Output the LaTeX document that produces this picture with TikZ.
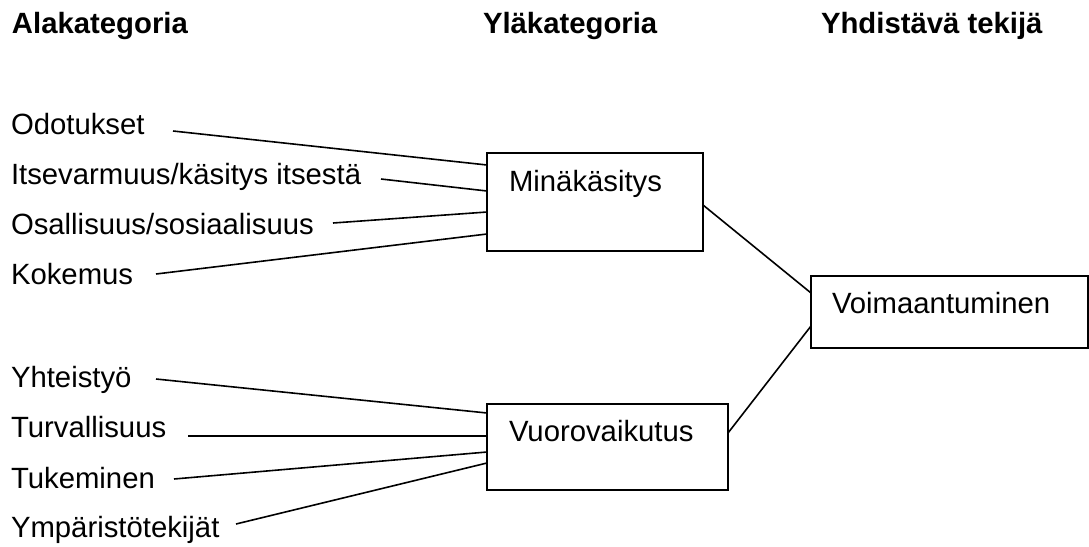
\documentclass[tikz,border=0pt]{standalone}
\usepackage{fontspec}
\setmainfont{Liberation Sans}
\usetikzlibrary{calc}
\begin{document}
\begin{tikzpicture}[x=1pt,y=-1pt,
  every node/.style={inner sep=0pt,outer sep=0pt,font=\fontsize{29.3}{35}\selectfont},
  label/.style={anchor=base west},
  head/.style={anchor=base west,font=\fontsize{29.3}{35}\selectfont\bfseries},
  catbox/.style={draw,line width=1.6pt,anchor=north west,align=left,inner ysep=0pt},
  link/.style={line width=1.6pt}]
\useasboundingbox (0,0) rectangle (1089,546);

% column headings
\node[head] (h1) at (12,33) {Alakategoria};
\node[head] (h2) at (483,33) {Yläkategoria};
\node[head] (h3) at (821,33) {Yhdistävä tekijä};

% subcategories
\node[label] (odo) at (11,134) {Odotukset};
\node[label] (its) at (11,184) {Itsevarmuus/käsitys itsestä};
\node[label] (osa) at (11,234) {Osallisuus/sosiaalisuus};
\node[label] (kok) at (11,284) {Kokemus};
\node[label] (yht) at (11,387) {Yhteistyö};
\node[label] (tur) at (11,437) {Turvallisuus};
\node[label] (tuk) at (11,488) {Tukeminen};
\node[label] (ymp) at (11,537) {Ympäristötekijät};

% main categories
\node[catbox,inner xsep=22pt,text width=172pt,text height=38pt,text depth=60pt] (mina) at (487,153) {Minäkäsitys};
\node[catbox,inner xsep=22pt,text width=197pt,text height=37pt,text depth=49pt] (vuoro) at (487,404) {Vuorovaikutus};
\node[catbox,inner xsep=21pt,text width=235pt,text height=37pt,text depth=35pt] (voima) at (811,276) {Voimaantuminen};

% free ends of the subcategory lines
\coordinate (c1) at (173,131);
\coordinate (c2) at (381,179);
\coordinate (c3) at (333,223);
\coordinate (c4) at (156,274);
\coordinate (c5) at (156,379);
\coordinate (c6) at (188,436);
\coordinate (c7) at (174,479);
\coordinate (c8) at (236,524);

\draw[link] (c1) -- ($(mina.north west)+(0,12)$);
\draw[link] (c2) -- ($(mina.north west)+(0,38)$);
\draw[link] (c3) -- ($(mina.north west)+(0,59)$);
\draw[link] (c4) -- ($(mina.north west)+(0,81)$);

\draw[link] (c5) -- ($(vuoro.north west)+(0,9)$);
\draw[link] (c6) -- ($(vuoro.north west)+(0,32)$);
\draw[link] (c7) -- ($(vuoro.north west)+(0,48)$);
\draw[link] (c8) -- ($(vuoro.north west)+(0,59)$);

\draw[link] ($(mina.north east)+(0,52)$) -- ($(voima.north west)+(0,17)$);
\draw[link] ($(vuoro.north east)+(0,29)$) -- ($(voima.north west)+(0,50)$);
\end{tikzpicture}
\end{document}
